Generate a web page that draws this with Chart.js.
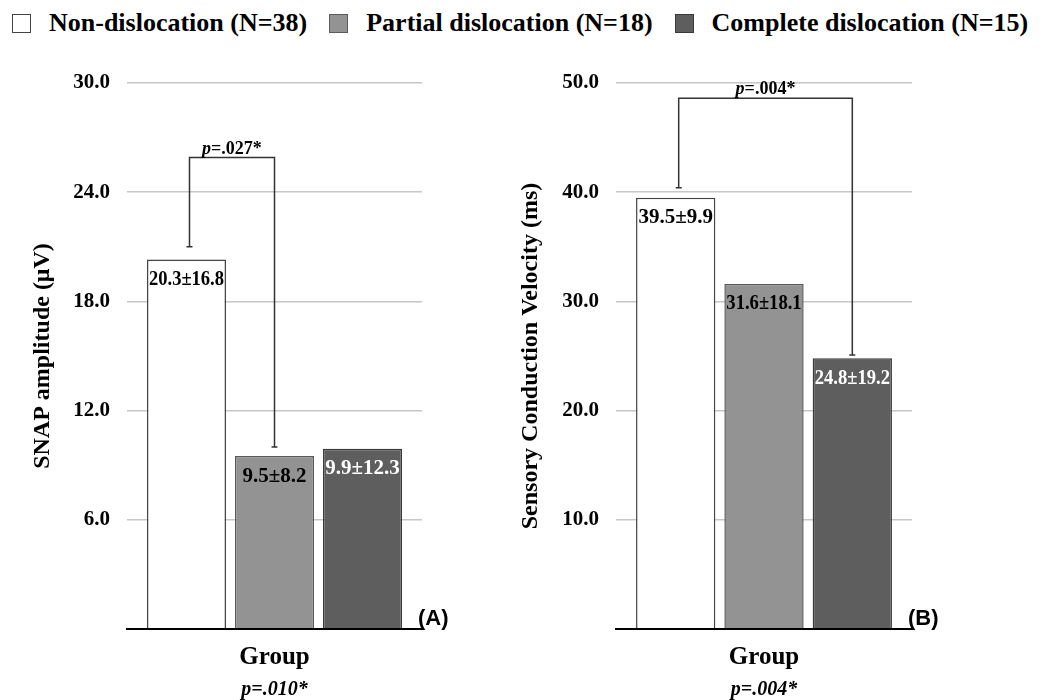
<!DOCTYPE html>
<html lang="en">
<head>
  <meta charset="UTF-8" />
  <title>SNAP amplitude and sensory conduction velocity by group</title>
  <script src="https://cdn.jsdelivr.net/npm/chart.js"></script>
  <style>
    body {
      margin: 0;
      background: #fff;
      width: 1048px;
      height: 700px;
      position: relative;
      overflow: hidden;
      font-family: "Liberation Serif", "Times New Roman", serif;
    }

    #legend {
      position: absolute;
      top: 8px;
      left: 12px;
      display: flex;
      height: 30px;
      align-items: center;
    }

    .item {
      display: flex;
      align-items: center;
      margin-right: 22px;
      font-weight: bold;
      font-size: 26px;
      white-space: nowrap;
      color: #000;
    }

    .box {
      width: 17px;
      height: 17px;
      margin-right: 18px;
      border-width: 1.5px;
      border-style: solid;
    }

    canvas {
      position: absolute;
      top: 0;
    }
  </style>
</head>
<body>
  <div id="legend"></div>
  <canvas id="chartA" width="505" height="700" style="left:0"></canvas>
  <canvas id="chartB" width="543" height="700" style="left:505px"></canvas>

  <script>
    // groups (one bar each, same order in both panels)
    const groups = ["Non-dislocation (N=38)", "Partial dislocation (N=18)", "Complete dislocation (N=15)"];
    const fills = ["#ffffff", "#939393", "#5e5e5e"];
    const borders = ["#444444", "#5a5a5a", "#3a3a3a"];
    const labelColors = ["#000000", "#000000", "#ffffff"];

    // panel A : SNAP amplitude
    const snapMean = [20.3, 9.5, 9.9];
    const snapSD = [16.8, 8.2, 12.3];
    const snapTicks = { max: 30, step: 6 };
    const snapBracket = { from: 0, to: 1, top: 25.9, ends: [21.0, 10.0], p: "=.027*" };
    const snapGroupP = "p=.010*";

    // panel B : sensory conduction velocity
    const scvMean = [39.5, 31.6, 24.8];
    const scvSD = [9.9, 18.1, 19.2];
    const scvTicks = { max: 50, step: 10 };
    const scvBracket = { from: 0, to: 2, top: 48.6, ends: [40.4, 25.1], p: "=.004*" };
    const scvGroupP = "p=.004*";

    const SERIF = '"Liberation Serif", "Times New Roman", serif';
    Chart.defaults.font.family = SERIF;
    Chart.defaults.color = "#000";

    // legend
    const legend = document.getElementById("legend");
    groups.forEach((g, i) => {
      const item = document.createElement("div");
      item.className = "item";
      item.innerHTML = `<span class="box" style="background:${fills[i]};border-color:${borders[i]}"></span>${g}`;
      legend.appendChild(item);
    });

    // mean±SD text inside each bar
    const valueLabels = {
      id: "valueLabels",
      afterDatasetsDraw(chart, args, opts) {
        const ctx = chart.ctx;
        ctx.save();
        ctx.font = "bold 21px " + SERIF;
        ctx.textAlign = "center";
        ctx.textBaseline = "middle";
        chart.data.datasets.forEach((ds, i) => {
          const bar = chart.getDatasetMeta(i).data[0];
          ctx.fillStyle = labelColors[i];
          const txt = opts.mean[i].toFixed(1) + "±" + opts.sd[i].toFixed(1);
          ctx.fillText(txt, bar.x, bar.y + 20, bar.width - 4);
        });
        ctx.restore();
      }
    };

    // significance bracket between two bars
    const bracket = {
      id: "bracket",
      afterDatasetsDraw(chart, args, o) {
        const ctx = chart.ctx;
        const y = chart.scales.y;
        const x1 = chart.getDatasetMeta(o.from).data[0].x + 3;
        const x2 = chart.getDatasetMeta(o.to).data[0].x;
        const yt = y.getPixelForValue(o.top);
        const y1 = y.getPixelForValue(o.ends[0]);
        const y2 = y.getPixelForValue(o.ends[1]);
        ctx.save();
        ctx.strokeStyle = "#333";
        ctx.lineWidth = 1.5;
        ctx.beginPath();
        ctx.moveTo(x1, y1);
        ctx.lineTo(x1, yt);
        ctx.lineTo(x2, yt);
        ctx.lineTo(x2, y2);
        ctx.moveTo(x1 - 3, y1); ctx.lineTo(x1 + 3, y1);
        ctx.moveTo(x2 - 3, y2); ctx.lineTo(x2 + 3, y2);
        ctx.stroke();

        ctx.fillStyle = "#000";
        ctx.textBaseline = "alphabetic";
        ctx.textAlign = "left";
        ctx.font = "italic bold 18px " + SERIF;
        const wp = ctx.measureText("p").width;
        ctx.font = "bold 18px " + SERIF;
        const wr = ctx.measureText(o.p).width;
        let sx = (x1 + x2) / 2 - (wp + wr) / 2;
        ctx.font = "italic bold 18px " + SERIF;
        ctx.fillText("p", sx, yt - 4);
        ctx.font = "bold 18px " + SERIF;
        ctx.fillText(o.p, sx + wp, yt - 4);
        ctx.restore();
      }
    };

    // group p value under the axis title and the panel letter
    const footer = {
      id: "footer",
      afterDraw(chart, args, o) {
        const ctx = chart.ctx;
        const a = chart.chartArea;
        ctx.save();
        ctx.fillStyle = "#000";
        ctx.textAlign = "center";
        ctx.textBaseline = "middle";
        ctx.font = "italic bold 20px " + SERIF;
        ctx.fillText(o.p, (a.left + a.right) / 2, 690);
        ctx.textAlign = "left";
        ctx.textBaseline = "alphabetic";
        ctx.font = 'bold 22px "Liberation Sans", Arial, sans-serif';
        ctx.fillText(o.letter, a.right - 4, a.bottom - 4);
        ctx.restore();
      }
    };

    function makePanel(id, mean, sd, ticks, yTitle, yWidth, titlePad, rightPad, br, groupP, letter) {
      return new Chart(document.getElementById(id), {
        type: "bar",
        data: {
          labels: ["Group"],
          datasets: groups.map((g, i) => ({
            label: g,
            data: [mean[i]],
            backgroundColor: fills[i],
            borderColor: borders[i],
            borderWidth: 1.5,
            categoryPercentage: 0.895,
            barPercentage: 0.898
          }))
        },
        options: {
          responsive: false,
          animation: false,
          layout: { padding: { top: 83, left: 0, right: rightPad, bottom: 0 } },
          plugins: {
            legend: { display: false },
            tooltip: { enabled: false },
            valueLabels: { mean: mean, sd: sd },
            bracket: br,
            footer: { p: groupP, letter: letter }
          },
          scales: {
            x: {
              ticks: { display: false },
              grid: { display: false },
              border: { display: true, color: "#000", width: 2, z: 1 },
              title: {
                display: true,
                text: "Group",
                font: { size: 25, weight: "bold" },
                padding: { top: 0, bottom: 27 }
              },
              afterFit: s => { s.height = 71; }
            },
            y: {
              min: 0,
              max: ticks.max,
              ticks: {
                stepSize: ticks.step,
                padding: 17,
                font: { size: 21, weight: "bold" },
                callback: v => v === 0 ? "" : v.toFixed(1)
              },
              grid: {
                drawTicks: false,
                lineWidth: 1.5,
                color: c => c.tick && c.tick.value === 0 ? "rgba(0,0,0,0)" : "#c6c6c6"
              },
              border: { display: false },
              title: {
                display: true,
                text: yTitle,
                font: { size: 24, weight: "bold" },
                padding: { top: titlePad, bottom: 0 }
              },
              afterFit: s => { s.width = yWidth; }
            }
          }
        },
        plugins: [valueLabels, bracket, footer]
      });
    }

    makePanel("chartA", snapMean, snapSD, snapTicks, "SNAP amplitude (μV)", 127, 28, 83, snapBracket, snapGroupP, "(A)");
    makePanel("chartB", scvMean, scvSD, scvTicks, "Sensory Conduction Velocity (ms)", 111, 11, 136, scvBracket, scvGroupP, "(B)");
  </script>
</body>
</html>
